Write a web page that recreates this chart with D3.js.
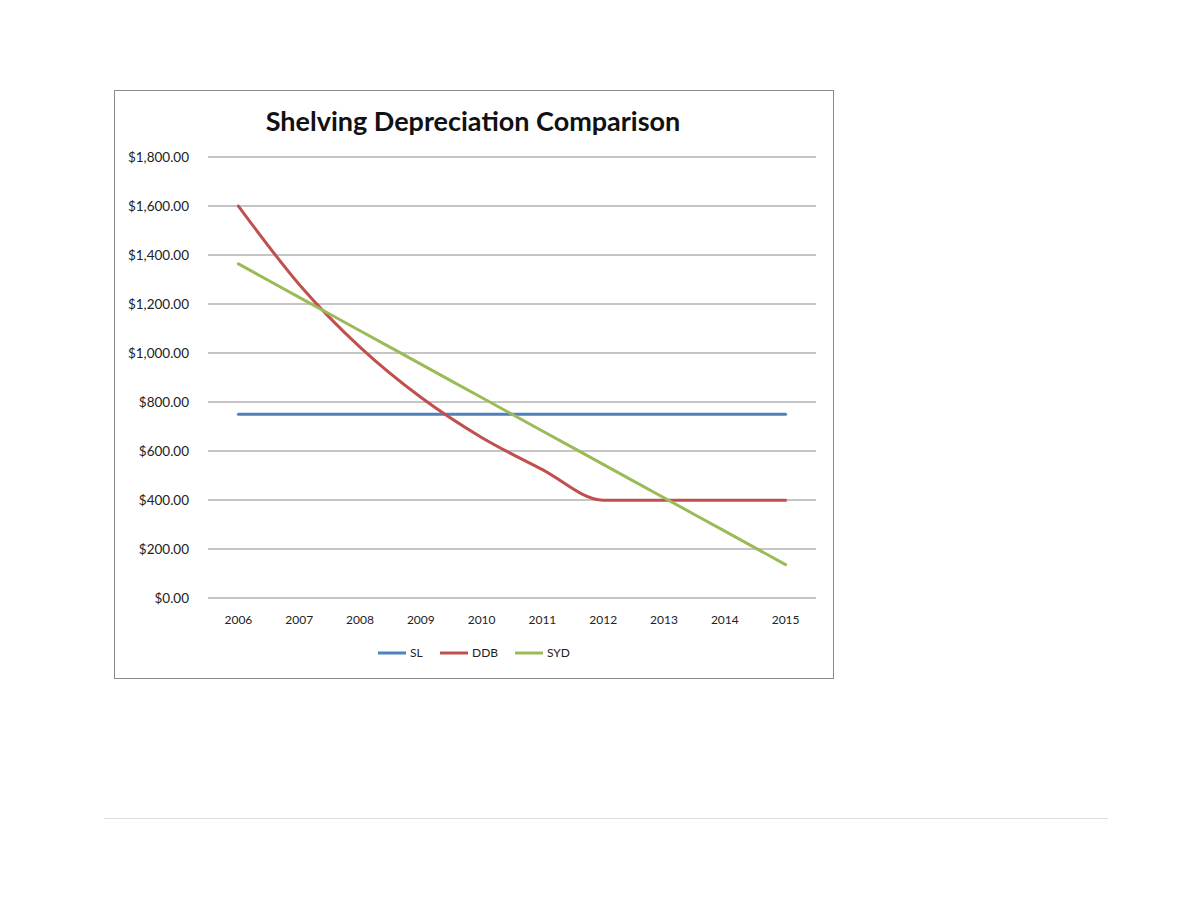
<!DOCTYPE html>
<html lang="en">
<head>
<meta charset="UTF-8">
<script src="https://cdn.jsdelivr.net/npm/d3@7"></script>
<title>Shelving Depreciation Comparison</title>
<style>
  body { margin: 0; background: #fff; }
  svg text { font-family: Lato, "Open Sans", sans-serif; fill: #222; }
  .grid line { stroke: #8c8c8c; stroke-width: 1.2; }
  .ytick text { font-size: 13.5px; text-anchor: end; }
  .xtick text { font-size: 12px; text-anchor: middle; }
</style>
</head>
<body>
<script>
// years on the category axis
const years = ["2006", "2007", "2008", "2009", "2010", "2011", "2012", "2013", "2014", "2015"];
// annual depreciation per method
const slValues  = [750, 750, 750, 750, 750, 750, 750, 750, 750, 750];
const ddbValues = [1600, 1280, 1024, 819.2, 655.36, 524.29, 399.29, 399.29, 399.29, 399.29];
const sydValues = [1363.64, 1227.27, 1090.91, 954.55, 818.18, 681.82, 545.45, 409.09, 272.73, 136.36];
const seriesNames = ["SL", "DDB", "SYD"];
const yTicks = [0, 200, 400, 600, 800, 1000, 1200, 1400, 1600, 1800];

const colors = ["#4F81BD", "#C0504D", "#9BBB59"];
const allSeries = [slValues, ddbValues, sydValues];

const svg = d3.select("body").append("svg")
  .attr("width", 1180).attr("height", 911);

// chart frame
svg.append("rect")
  .attr("x", 114.5).attr("y", 90.5)
  .attr("width", 719).attr("height", 588)
  .attr("fill", "#fff").attr("stroke", "#8a8a8a");

svg.append("text")
  .attr("x", 473).attr("y", 131)
  .attr("text-anchor", "middle")
  .style("font-size", "27px").style("font-weight", "bold")
  .style("fill", "#111")
  .text("Shelving Depreciation Comparison");

const x = d3.scalePoint().domain(years).range([208, 816]).padding(0.5);
const y = d3.scaleLinear().domain([0, 1800]).range([598, 157]);

// horizontal gridlines + y labels
const yg = svg.append("g").attr("class", "grid ytick");
yg.selectAll("line").data(yTicks).enter().append("line")
  .attr("x1", 208).attr("x2", 816)
  .attr("y1", d => y(d)).attr("y2", d => y(d));
yg.selectAll("text").data(yTicks).enter().append("text")
  .attr("x", 189).attr("y", d => y(d)).attr("dy", "0.35em")
  .text(d => d3.format("$,.2f")(d));

// x labels
svg.append("g").attr("class", "xtick")
  .selectAll("text").data(years).enter().append("text")
  .attr("x", d => x(d)).attr("y", 624)
  .text(d => d);

// series lines (smoothed like the spreadsheet chart)
const line = d3.line()
  .x((d, i) => x(years[i]))
  .y(d => y(d))
  .curve(d3.curveMonotoneX);

svg.selectAll("path.series").data(allSeries).enter().append("path")
  .attr("class", "series")
  .attr("d", d => line(d))
  .attr("fill", "none")
  .attr("stroke", (d, i) => colors[i])
  .attr("stroke-width", 3)
  .attr("stroke-linecap", "round");

// legend
const legendX = [378, 440, 515];
const lg = svg.append("g").selectAll("g").data(seriesNames).enter().append("g")
  .attr("transform", (d, i) => "translate(" + legendX[i] + ",653)");
lg.append("line")
  .attr("x1", 0).attr("x2", 28).attr("y1", 0).attr("y2", 0)
  .attr("stroke", (d, i) => colors[i]).attr("stroke-width", 3);
lg.append("text")
  .attr("x", 32).attr("dy", "0.35em")
  .style("font-size", "12px")
  .text(d => d);

// page rule at the bottom
svg.append("line")
  .attr("x1", 104).attr("x2", 1108).attr("y1", 818.5).attr("y2", 818.5)
  .attr("stroke", "#dcdcdc");
</script>
</body>
</html>
